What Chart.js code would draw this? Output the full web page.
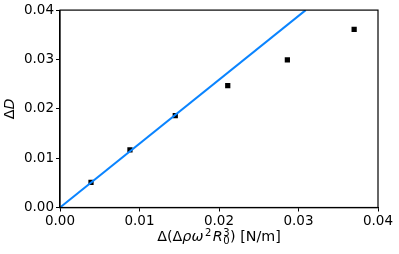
<!DOCTYPE html>
<html>
<head>
<meta charset="utf-8">
<script src="https://cdn.jsdelivr.net/npm/chart.js@4.4.1/dist/chart.umd.min.js"></script>
<style>
  html, body { margin: 0; padding: 0; background: #fff; }
  #wrap { width: 399px; height: 254px; }
</style>
</head>
<body>
<div id="wrap"><canvas id="chart"></canvas></div>
<script>
// measured points
const pointsX = [0.0039, 0.0088, 0.0145, 0.0211, 0.0286, 0.0370];
const pointsY = [0.0051, 0.0117, 0.0186, 0.0247, 0.0299, 0.0361];
// fitted line endpoints
const fitX = [0, 0.0309];
const fitY = [0, 0.0400];
const tickValues = [0, 0.01, 0.02, 0.03, 0.04];

const FONT = 'DejaVu Sans';
const FS = 13.5;
const TS = 14.3;

function toXY(xs, ys) {
    return xs.map(function(x, i) { return { x: x, y: ys[i] }; });
}

const framePlugin = {
    id: 'frame',
    afterDraw: function(chart) {
        const ctx = chart.ctx;
        const a = chart.chartArea;
        ctx.save();
        ctx.strokeStyle = '#000';
        ctx.lineWidth = 1.2;
        ctx.strokeRect(a.left, a.top, a.right - a.left, a.bottom - a.top);

        // y title: ΔD (D italic), rotated
        ctx.translate(10.5, (a.top + a.bottom) / 2);
        ctx.rotate(-Math.PI / 2);
        ctx.fillStyle = '#000';
        ctx.textBaseline = 'middle';
        ctx.font = TS + 'px "' + FONT + '"';
        const w1 = ctx.measureText('Δ').width;
        ctx.font = 'italic ' + TS + 'px "' + FONT + '"';
        const w2 = ctx.measureText('D').width;
        let x0 = -(w1 + w2) / 2;
        ctx.font = TS + 'px "' + FONT + '"';
        ctx.textAlign = 'left';
        ctx.fillText('Δ', x0, 0);
        ctx.font = 'italic ' + TS + 'px "' + FONT + '"';
        ctx.fillText('D', x0 + w1, 0);
        ctx.restore();

        // x title: Δ(Δρω²R₀³) [N/m]
        ctx.save();
        ctx.fillStyle = '#000';
        ctx.textBaseline = 'alphabetic';
        ctx.textAlign = 'left';
        const small = TS * 0.7;
        const parts = [
            { t: 'Δ(Δ', f: TS + 'px "' + FONT + '"', dy: 0, gap: 0 },
            { t: 'ρω', f: 'italic ' + TS + 'px "' + FONT + '"', dy: 0, gap: 1.5 },
            { t: '2', f: small + 'px "' + FONT + '"', dy: -5, gap: 1.5 },
            { t: 'R', f: 'italic ' + TS + 'px "' + FONT + '"', dy: 0, gap: 0.5 },
            { t: '3', f: small + 'px "' + FONT + '"', dy: -5, stack: true },
            { t: '0', f: small + 'px "' + FONT + '"', dy: 2.5, gap: 0.5 },
            { t: ') [N/m]', f: TS + 'px "' + FONT + '"', dy: 0, gap: 0 }
        ];
        let total = 0;
        const widths = parts.map(function(p) {
            ctx.font = p.f;
            const w = ctx.measureText(p.t).width;
            if (!p.stack) total += w + p.gap;
            return w;
        });
        let x = (a.left + a.right) / 2 - total / 2;
        const base = 241;
        parts.forEach(function(p, i) {
            ctx.font = p.f;
            ctx.fillText(p.t, x, base + p.dy);
            if (!p.stack) x += widths[i] + p.gap;
        });
        ctx.restore();
    }
};

const tickOpts = {
    color: '#000',
    font: { family: FONT, size: FS },
    padding: 2,
    callback: function(v) { return v.toFixed(2); }
};

new Chart(document.getElementById('chart'), {
    type: 'scatter',
    data: {
        datasets: [
            {
                type: 'line',
                data: toXY(fitX, fitY),
                borderColor: '#0a84ff',
                borderWidth: 2,
                pointRadius: 0,
                fill: false
            },
            {
                data: toXY(pointsX, pointsY),
                backgroundColor: '#000',
                borderColor: '#000',
                pointStyle: 'rect',
                pointRadius: 3.7,
                borderWidth: 0
            }
        ]
    },
    options: {
        responsive: true,
        maintainAspectRatio: false,
        animation: false,
        layout: { padding: { top: 10, right: 21, left: 0, bottom: 0 } },
        plugins: { legend: { display: false }, tooltip: { enabled: false } },
        scales: {
            x: {
                type: 'linear',
                min: 0, max: 0.04,
                afterBuildTicks: function(axis) {
                    axis.ticks = tickValues.map(function(v) { return { value: v }; });
                },
                afterFit: function(axis) { axis.height = 46.5; },
                grid: { drawOnChartArea: false, drawTicks: true, tickLength: 4, color: '#000', tickWidth: 1 },
                border: { display: true, color: '#000', width: 1.2 },
                ticks: tickOpts
            },
            y: {
                type: 'linear',
                min: 0, max: 0.04,
                afterBuildTicks: function(axis) {
                    axis.ticks = tickValues.map(function(v) { return { value: v }; });
                },
                afterFit: function(axis) { axis.width = 60; },
                grid: { drawOnChartArea: false, drawTicks: true, tickLength: 4, color: '#000', tickWidth: 1 },
                border: { display: true, color: '#000', width: 1.2 },
                ticks: tickOpts
            }
        }
    },
    plugins: [framePlugin]
});
</script>
</body>
</html>
